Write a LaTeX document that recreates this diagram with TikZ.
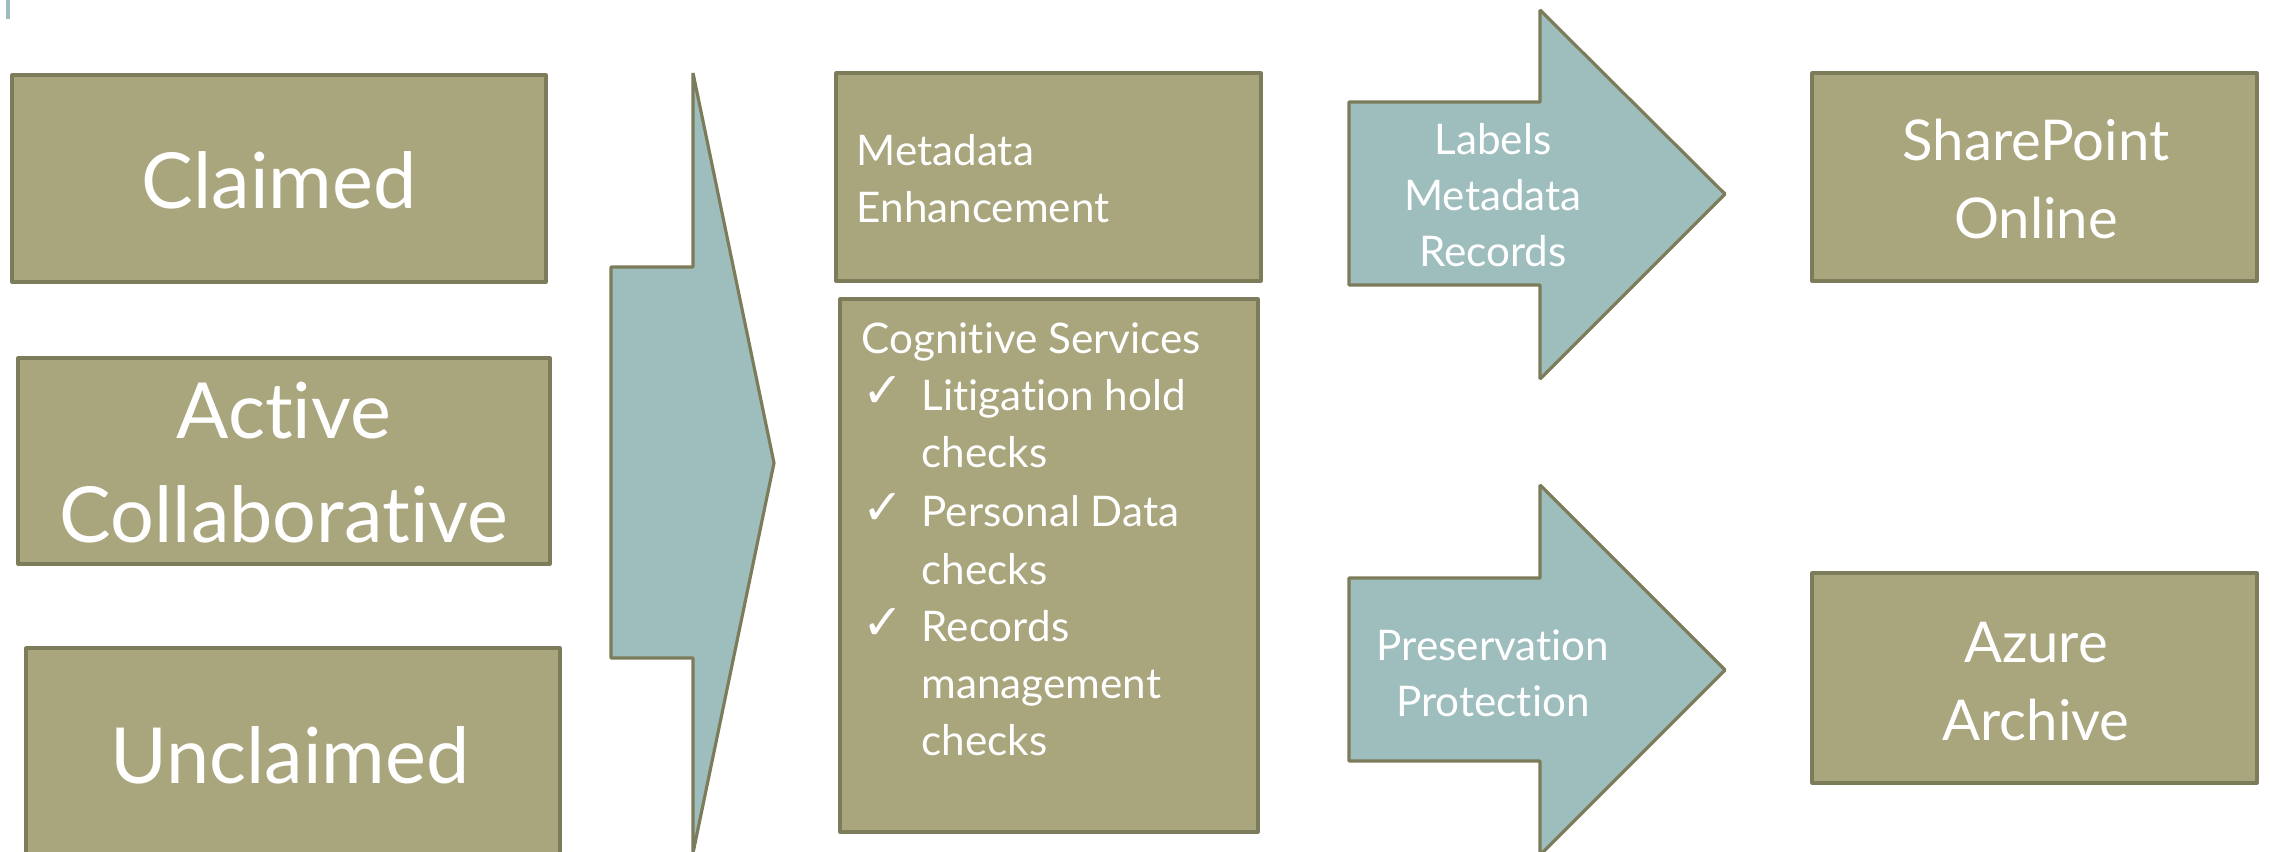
\documentclass[tikz,border=0pt]{standalone}
\usepackage{fontspec}
\setmainfont{Lato}[Ligatures={NoCommon}]
\newfontfamily\checkfont{DejaVu Sans}
\usepackage{xcolor}

\definecolor{olivebox}{HTML}{A9A57C}
\definecolor{oliveline}{HTML}{7C7B5A}
\definecolor{tealarrow}{HTML}{9DBEBD}

\tikzset{
    box/.style={draw=oliveline, fill=olivebox, line width=0.9pt, line join=round},
    flow/.style={draw=oliveline, fill=tealarrow, line width=0.9pt, line join=bevel},
    bigtext/.style={text=white, inner sep=0pt, anchor=base, font=\fontsize{22}{26}\selectfont},
    midtext/.style={text=white, inner sep=0pt, anchor=base, font=\fontsize{16}{19}\selectfont},
    smalltext/.style={text=white, inner sep=0pt, anchor=base, font=\fontsize{12}{14}\selectfont},
    ticktext/.style={text=white, inner sep=0pt, anchor=base west, font=\checkfont\fontsize{14}{16}\selectfont},
}

\begin{document}
\begin{tikzpicture}[x=0.01cm, y=-0.01cm]

        \clip (0,0) rectangle (2270,852);

        %Slide mark
        \fill [tealarrow] (6,0) rectangle (10,19);

        %Sources
        \draw [box] (12,75) rectangle (546,282);
        \node [bigtext] (claimed) at (279,209) {Claimed};

        \draw [box] (18,358) rectangle (550,564);
        \node [bigtext] (active) at (284,439) {Active};
        \node [bigtext] (collab) at (284,542) {Collaborative};

        \draw [box] (26,648) rectangle (560,900);
        \node [bigtext] (unclaimed) at (290,783) {Unclaimed};

        %Big chevron
        \draw [flow] (611,267) -- (693,267) -- (693,73) -- (774,463) -- (693,853) -- (693,658) -- (611,658) -- cycle;

        %Metadata enhancement
        \draw [box] (836,73) rectangle (1261,281);
        \node [smalltext, anchor=base west] (meta) at (856,166) {Metadata};
        \node [smalltext, anchor=base west] (enh) at (856,223) {Enhancement};

        %Cognitive services
        \draw [box] (840,299) rectangle (1258,832);
        \node [smalltext, anchor=base west] (cog) at (861,354) {Cognitive Services};
        \node [ticktext] (tick1) at (862,408) {✓};
        \node [smalltext, anchor=base west] (lit) at (921,410) {Litigation hold};
        \node [smalltext, anchor=base west] (lit2) at (921,467) {checks};
        \node [ticktext] (tick2) at (862,524) {✓};
        \node [smalltext, anchor=base west] (pers) at (921,526) {Personal Data};
        \node [smalltext, anchor=base west] (pers2) at (921,584) {checks};
        \node [ticktext] (tick3) at (862,639) {✓};
        \node [smalltext, anchor=base west] (rec) at (921,641) {Records};
        \node [smalltext, anchor=base west] (rec2) at (921,698) {management};
        \node [smalltext, anchor=base west] (rec3) at (921,755) {checks};

        %Upper arrow
        \draw [flow] (1349,102) -- (1540,102) -- (1540,10) -- (1725,194) -- (1540,379) -- (1540,285) -- (1349,285) -- cycle;
        \node [smalltext] (labels) at (1493,155) {Labels};
        \node [smalltext] (metadata) at (1493,211) {Metadata};
        \node [smalltext] (records) at (1493,267) {Records};

        %Lower arrow
        \draw [flow] (1349,578) -- (1540,578) -- (1540,485) -- (1725,670) -- (1540,855) -- (1540,761) -- (1349,761) -- cycle;
        \node [smalltext] (pres) at (1493,660) {Preservation};
        \node [smalltext] (prot) at (1493,716) {Protection};

        %Targets
        \draw [box] (1812,73) rectangle (2257,281);
        \node [midtext] (sp) at (2036,161) {SharePoint};
        \node [midtext] (online) at (2036,239) {Online};

        \draw [box] (1812,573) rectangle (2257,783);
        \node [midtext] (azure) at (2036,662) {Azure};
        \node [midtext] (archive) at (2036,740) {Archive};

\end{tikzpicture}
\end{document}
